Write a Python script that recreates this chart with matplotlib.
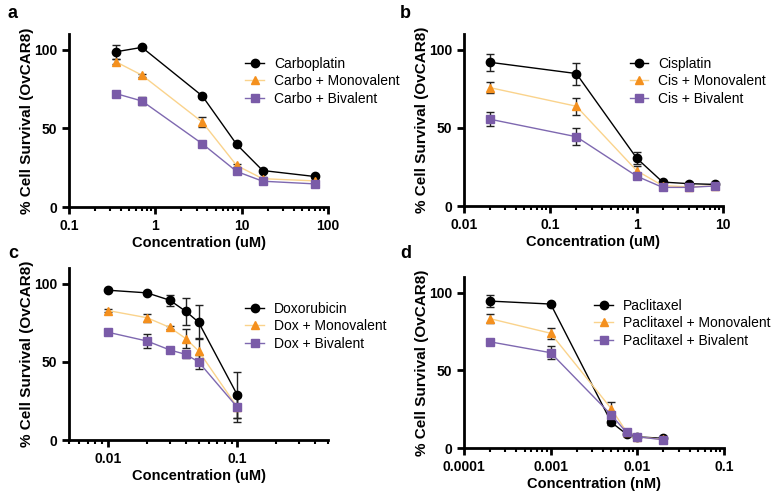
import matplotlib
matplotlib.use('Agg')
import matplotlib.pyplot as plt
import numpy as np

plt.rcParams['font.family'] = 'Liberation Sans'
plt.rcParams['font.size'] = 10

# ---- data ----
# panel a: carboplatin
a_x = [0.35, 0.7, 3.5, 8.75, 17.5, 70]
a_drug = [98.7, 101.5, 70.6, 39.8, 23.2, 19.4]
a_drug_err = [4.5, 0.8, 1.0, 1.0, 1.0, 0.8]
a_mono = [92.3, 83.8, 54.0, 26.4, 18.0, 16.6]
a_mono_err = [1.5, 1.0, 3.0, 1.0, 0.8, 0.8]
a_biv = [72.1, 67.4, 40.2, 22.6, 16.4, 14.7]
a_biv_err = [1.0, 2.5, 1.0, 1.0, 0.8, 0.8]

# panel b: cisplatin
b_x = [0.02, 0.2, 1, 2, 4, 8]
b_drug = [91.9, 84.7, 30.6, 15.3, 14.3, 13.8]
b_drug_err = [5.5, 7.0, 4.0, 1.0, 1.0, 1.0]
b_mono = [75.7, 63.8, 22.6, 13.0, 12.3, 12.8]
b_mono_err = [3.5, 5.5, 3.0, 1.0, 0.8, 0.8]
b_biv = [55.5, 44.3, 19.1, 11.9, 11.9, 12.8]
b_biv_err = [4.5, 5.5, 1.5, 0.8, 0.8, 0.8]

# panel c: doxorubicin
c_x = [0.01, 0.02, 0.03, 0.04, 0.05, 0.1]
c_drug = [95.8, 94.1, 89.4, 82.2, 75.4, 28.6]
c_drug_err = [0.8, 0.8, 3.6, 8.7, 10.8, 14.8]
c_mono = [82.8, 78.2, 72.0, 64.8, 57.0, 20.8]
c_mono_err = [0.8, 2.5, 1.0, 6.0, 8.0, 9.0]
c_biv = [68.9, 63.3, 57.6, 54.7, 50.0, 20.8]
c_biv_err = [2.0, 4.7, 1.0, 2.0, 4.5, 7.0]

# panel d: paclitaxel
d_x = [0.0002, 0.001, 0.005, 0.0075, 0.01, 0.02]
d_drug = [94.5, 92.6, 16.6, 8.9, 7.2, 6.2]
d_drug_err = [4.0, 0.8, 1.5, 1.0, 0.8, 0.8]
d_mono = [83.2, 73.8, 25.3, 10.4, 7.2, 5.5]
d_mono_err = [3.0, 3.5, 4.0, 1.0, 0.8, 0.8]
d_biv = [68.3, 61.3, 21.3, 10.0, 7.2, 5.3]
d_biv_err = [1.0, 4.0, 2.0, 1.0, 0.8, 0.8]

labels_a = ['Carboplatin', 'Carbo + Monovalent', 'Carbo + Bivalent']
labels_b = ['Cisplatin', 'Cis + Monovalent', 'Cis + Bivalent']
labels_c = ['Doxorubicin', 'Dox + Monovalent', 'Dox + Bivalent']
labels_d = ['Paclitaxel', 'Paclitaxel + Monovalent', 'Paclitaxel + Bivalent']

black = '#000000'
orange = '#F4901E'
orange_line = '#FAD38C'
purple = '#7A5BA8'
purple_line = '#7E68B0'

W, H = 773, 494
fig = plt.figure(figsize=(W / 100, H / 100), dpi=100)


def box(l, r, t, b):
    return [l / W, 1 - b / H, (r - l) / W, (b - t) / H]


def panel(rect, x, series, labels, xlim, xticks, xlabel, leg_anchor, tag, tagpos):
    ax = fig.add_axes(rect)
    styles = [(black, black, 'o'), (orange, orange_line, '^'), (purple, purple_line, 's')]
    for (y, err), lab, (mc, lc, m) in zip(series, labels, styles):
        ax.errorbar(x, y, yerr=err, fmt='none', ecolor='#222222', elinewidth=1,
                    capsize=3, capthick=1, zorder=2)
        ax.plot(x, y, color=lc, lw=1, marker=m, ms=6, mfc=mc, mec=mc,
                label=lab, zorder=3)
    ax.set_xscale('log')
    ax.set_xlim(*xlim)
    ax.set_ylim(0, 110)
    ax.set_yticks([0, 50, 100])
    ax.set_xticks(xticks)
    ax.set_xticklabels([('%g' % t) for t in xticks])
    ax.xaxis.set_minor_formatter(matplotlib.ticker.NullFormatter())
    for s in ['top', 'right']:
        ax.spines[s].set_visible(False)
    for s in ['left', 'bottom']:
        ax.spines[s].set_linewidth(2)
    ax.tick_params(which='major', width=2, length=5, labelsize=10)
    ax.tick_params(which='minor', width=1.5, length=3)
    for t in ax.get_xticklabels() + ax.get_yticklabels():
        t.set_fontweight('bold')
    ax.set_xlabel(xlabel, fontweight='bold', fontsize=10.5, labelpad=2)
    ax.set_ylabel('% Cell Survival (OvCAR8)', fontweight='bold', fontsize=11, labelpad=0)
    ax.legend(loc='upper left', bbox_to_anchor=leg_anchor, frameon=False,
              fontsize=10, handlelength=1.35, handletextpad=0.7, labelspacing=0.25,
              borderaxespad=0)
    fig.text(tagpos[0] / W, 1 - tagpos[1] / H, tag, fontweight='bold', fontsize=13,
             va='center', ha='left')
    return ax


panel(box(69, 328, 34, 207), a_x,
      [(a_drug, a_drug_err), (a_mono, a_mono_err), (a_biv, a_biv_err)],
      labels_a, (0.1, 100), [0.1, 1, 10, 100], 'Concentration (uM)',
      (0.66, 0.90), 'a', (8, 13))

panel(box(464, 723, 34, 206), b_x,
      [(b_drug, b_drug_err), (b_mono, b_mono_err), (b_biv, b_biv_err)],
      labels_b, (0.01, 10), [0.01, 0.1, 1, 10], 'Concentration (uM)',
      (0.618, 0.90), 'b', (400, 13))

panel(box(69, 328, 268, 440), c_x,
      [(c_drug, c_drug_err), (c_mono, c_mono_err), (c_biv, c_biv_err)],
      labels_c, (0.005, 0.5), [0.01, 0.1], 'Concentration (uM)',
      (0.66, 0.837), 'c', (8, 254))

panel(box(464, 724, 277, 448), d_x,
      [(d_drug, d_drug_err), (d_mono, d_mono_err), (d_biv, d_biv_err)],
      labels_d, (0.0001, 0.1), [0.0001, 0.001, 0.01, 0.1], 'Concentration (nM)',
      (0.48, 0.906), 'd', (400, 254))

fig.savefig('out.png', dpi=100)
